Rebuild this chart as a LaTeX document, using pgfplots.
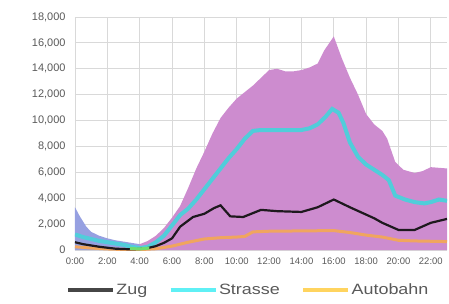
\documentclass[border=0pt]{standalone}
\usepackage{pgfplots}
\pgfplotsset{compat=1.18}
\usepackage{fontspec}
\setmainfont{Liberation Sans}
\definecolor{orchidfill}{RGB}{205,140,207}
\definecolor{bluefill}{RGB}{150,160,225}
\definecolor{strasse}{RGB}{80,205,218}
\definecolor{strasseleg}{RGB}{95,240,245}
\definecolor{zug}{RGB}{30,25,30}
\definecolor{zugleg}{RGB}{70,70,70}
\definecolor{autob}{RGB}{240,165,95}
\definecolor{autobleg}{RGB}{255,212,95}
\definecolor{gridc}{RGB}{217,217,217}
\definecolor{txt}{RGB}{89,89,89}
\definecolor{greenl}{RGB}{110,220,110}
\begin{document}
\begin{tikzpicture}
\useasboundingbox (-75bp,-54bp) rectangle (374bp,250bp);
\begin{axis}[
  scale only axis, width=372bp, height=233bp,
  xmin=0, xmax=23, ymin=0, ymax=18000,
  xtick={0,2,...,22},
  xticklabels={0:00,2:00,4:00,6:00,8:00,10:00,12:00,14:00,16:00,18:00,20:00,22:00},
  ytick={0,2000,...,18000},
  scaled y ticks=false,
  /pgf/number format/.cd, 1000 sep={,}, assume math mode=true, /pgfplots/.cd,
  yticklabel style={font=\fontsize{11}{13}\selectfont, text=txt, xshift=-6bp},
  xticklabel style={font=\fontsize{9.5}{11}\selectfont, text=txt, yshift=-4bp},
  major tick length=0pt,
  axis line style={draw=none},
  grid=major, major grid style={gridc, line width=0.8bp},
  legend columns=3,
  legend style={draw=none, fill=none, at={(0.465,-0.13)}, anchor=north,
    font=\fontsize{15}{17}\selectfont, text=txt,
    nodes={inner sep=1.5bp},
    /tikz/every even column/.append style={column sep=20bp}},
  legend image code/.code={\draw[#1] (0cm,0cm) -- (1.58cm,0cm);},
]
% envelope area
\addplot[draw=none, fill=orchidfill, forget plot] table {
x y
2.5 0
3 500
3.5 450
4 450
4.5 700
5 1100
5.5 1700
6 2500
6.5 3400
7 4800
7.5 6300
8 7600
8.5 9000
9 10200
9.5 11000
10 11700
10.5 12200
11 12700
11.5 13300
12 13900
12.5 14000
13 13800
13.5 13800
14 13900
14.5 14100
15 14400
15.4 15400
16 16500
16.5 14800
17 13300
17.5 12000
18 10500
18.5 9700
19 9200
19.3 8600
19.8 6800
20.3 6200
21 5950
21.5 6100
22 6400
23 6300
23 0
} \closedcycle;
% blue area at left
\addplot[draw=none, fill=bluefill, forget plot] table {
x y
0 3300
0.3 2600
0.7 1800
1 1400
1.5 1100
2 900
2.5 750
3 650
3.5 550
4 450
4 0
0 0
} \closedcycle;
% Autobahn
\addplot[autob, line width=3bp, forget plot] table {
x y
0 250
1 150
2 80
3 40
4 30
5 100
6 300
7 600
8 850
9 950
10 1000
10.5 1050
11 1400
12 1450
16 1500
17 1350
18 1150
19 1000
20 750
21 700
23 650
};
% Strasse
\addplot[strasse, line width=4bp, forget plot] table {
x y
0 1200
0.5 1000
1 850
1.5 700
2 600
2.5 500
3 400
3.5 250
4 150
4.5 250
5 600
5.5 1100
6 1900
6.5 2700
7 3200
7.5 3900
8 4700
8.5 5500
9 6300
9.5 7100
10 7800
10.5 8600
11 9200
11.5 9270
12 9270
14 9270
14.5 9400
15 9700
15.5 10300
15.9 10900
16.3 10600
16.6 9800
17 8300
17.5 7200
18 6600
18.5 6200
19 5800
19.4 5400
19.8 4200
20.4 3900
21 3700
21.6 3600
22 3700
22.5 3900
23 3800
};
% Zug
\addplot[zug, line width=2.2bp, forget plot] table {
x y
0 600
0.5 450
1.5 250
2.5 100
3.5 50
4 80
4.5 150
5 300
5.5 550
6 900
6.5 1800
7.3 2550
8 2800
8.6 3240
9 3450
9.6 2600
10.4 2550
11.5 3100
12.5 3000
14 2940
15 3300
16 3900
17 3300
18.5 2450
19 2100
20 1550
21 1550
22 2100
23 2400
};
% green segment
\addplot[greenl, line width=3bp, forget plot] table {
x y
3.4 120
4 80
4.6 150
};
\addlegendimage{zugleg, line width=4bp}
\addlegendentry{\scalebox{1.2}[1]{Zug}}
\addlegendimage{strasseleg, line width=4bp}
\addlegendentry{\scalebox{1.2}[1]{Strasse}}
\addlegendimage{autobleg, line width=4bp}
\addlegendentry{\scalebox{1.2}[1]{Autobahn}}
\end{axis}
\end{tikzpicture}
\end{document}
